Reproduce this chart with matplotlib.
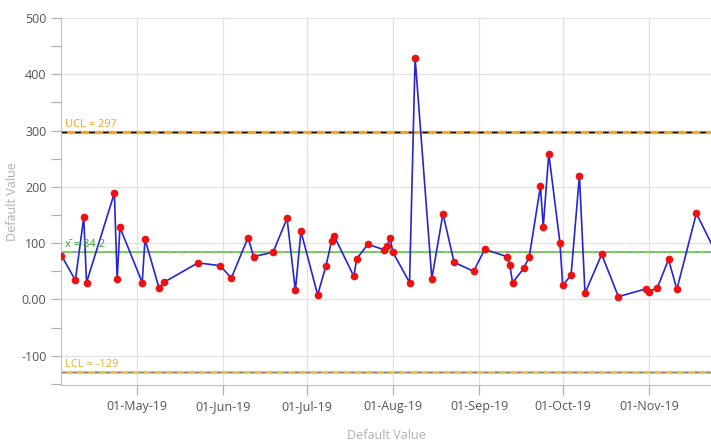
import matplotlib
matplotlib.use("Agg")
import matplotlib.pyplot as plt
import matplotlib.dates as mdates
from matplotlib.ticker import MultipleLocator, FuncFormatter
import pandas as pd

# -------------------------
# DATA
# -------------------------
dates = [
    "2019-04-04", "2019-04-09", "2019-04-12", "2019-04-13", "2019-04-23",
    "2019-04-24", "2019-04-25", "2019-05-03", "2019-05-04", "2019-05-09",
    "2019-05-11", "2019-05-23", "2019-05-31", "2019-06-04", "2019-06-10",
    "2019-06-12", "2019-06-19", "2019-06-24", "2019-06-27", "2019-06-29",
    "2019-07-05", "2019-07-08", "2019-07-10", "2019-07-11", "2019-07-18",
    "2019-07-19", "2019-07-23", "2019-07-29", "2019-07-30", "2019-07-31",
    "2019-08-01", "2019-08-07", "2019-08-09", "2019-08-15", "2019-08-19",
    "2019-08-23", "2019-08-30", "2019-09-03", "2019-09-11", "2019-09-12",
    "2019-09-13", "2019-09-17", "2019-09-19", "2019-09-23", "2019-09-24",
    "2019-09-26", "2019-09-30", "2019-10-01", "2019-10-04", "2019-10-07",
    "2019-10-09", "2019-10-15", "2019-10-21", "2019-10-31", "2019-11-01",
    "2019-11-04", "2019-11-08", "2019-11-11", "2019-11-18", "2019-11-26",
]
values = [
    78, 34, 146, 30, 189,
    36, 128, 30, 107, 21,
    31, 65, 60, 38, 110,
    76, 84, 144, 16, 121,
    8, 60, 104, 112, 41,
    72, 98, 88, 95, 110,
    84, 30, 429, 37, 152,
    66, 50, 89, 76, 61,
    30, 55, 76, 201, 129,
    259, 101, 25, 43, 220,
    11, 80, 5, 19, 14,
    21, 71, 18, 153, 73,
]

ucl = 297
mean = 84.2
lcl = -129

x = pd.to_datetime(dates)

# -------------------------
# FIGURE
# -------------------------
plt.rcParams['font.family'] = ['Open Sans', 'DejaVu Sans']

fig = plt.figure(figsize=(7.11, 4.44), dpi=100)
ax = fig.add_axes([61 / 711, 59 / 444, 650 / 711, 367 / 444])

# control lines
ax.axhline(ucl, color="#f5a623", linewidth=2.3, zorder=2)
ax.axhline(ucl, color="black", linewidth=1, linestyle=(0, (4, 6)), zorder=2.1)
ax.axhline(mean, color="#6fdc4a", linewidth=1.5, zorder=2)
ax.axhline(mean, color="#999999", linewidth=0.8, linestyle=(0, (4, 6)), zorder=2.1)
ax.axhline(lcl, color="#f0c04a", linewidth=2.2, zorder=2)
ax.axhline(lcl, color="#888888", linewidth=0.8, linestyle=(0, (4, 6)), zorder=2.1)

# data
ax.plot(x, values, color="#2424d8", linewidth=1.2, zorder=3)
ax.plot(x, values, linestyle="none", marker="o", markersize=4.5,
        color="#f01010", markeredgecolor="#f01010", zorder=4)

# labels on lines
ax.text(0.006, ucl + 4, "UCL = 297", transform=ax.get_yaxis_transform(),
        color="#f5a623", fontsize=8, va="bottom")
ax.text(0.006, mean + 4, "x\u0304 = 84.2", transform=ax.get_yaxis_transform(),
        color="#3aa02a", fontsize=8, va="bottom")
ax.text(0.006, lcl + 4, "LCL = -129", transform=ax.get_yaxis_transform(),
        color="#e8b030", fontsize=8, va="bottom")

# -------------------------
# AXES
# -------------------------
ax.set_ylim(-152, 500)
ax.set_xlim(pd.Timestamp("2019-04-03 20:00"), pd.Timestamp("2019-11-23 06:00"))

ax.yaxis.set_major_locator(MultipleLocator(100))
ax.yaxis.set_minor_locator(MultipleLocator(50))
ax.yaxis.set_major_formatter(FuncFormatter(lambda v, p: "0.00" if v == 0 else f"{v:.0f}"))

ax.xaxis.set_major_locator(mdates.MonthLocator(bymonth=range(5, 12)))
ax.xaxis.set_major_formatter(mdates.DateFormatter("%d-%b-%y"))

ax.grid(True, color="#e2e2e2", linewidth=0.9, zorder=0)
ax.set_axisbelow(True)

for side in ["top", "right"]:
    ax.spines[side].set_visible(False)
for side in ["left", "bottom"]:
    ax.spines[side].set_color("#c0c0c0")

ax.tick_params(axis="both", which="both", colors="#b0b0b0", labelcolor="#555555",
               labelsize=9, length=7, width=0.9, direction="out")

ax.set_ylabel("Default Value", color="#b0b0b0", fontsize=9)
ax.yaxis.set_label_coords(-0.064, 0.5)
ax.set_xlabel("Default Value", color="#b0b0b0", fontsize=9, labelpad=12)

fig.savefig("out.png", dpi=100, facecolor="white")
